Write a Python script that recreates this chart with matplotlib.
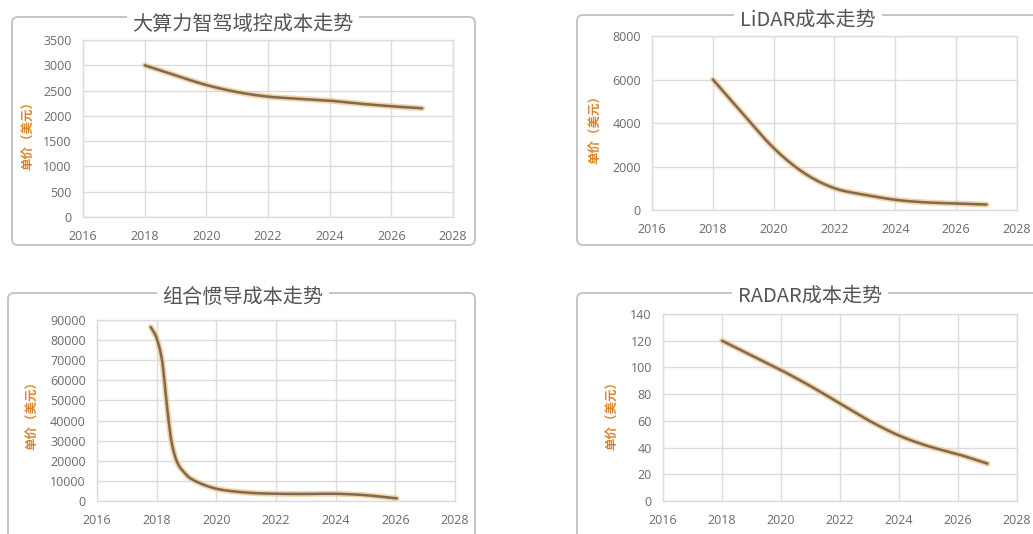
import numpy as np
import matplotlib
matplotlib.use("Agg")
import matplotlib.pyplot as plt
from matplotlib.patches import FancyBboxPatch

plt.rcParams['font.family'] = ['Open Sans', 'Noto Sans CJK SC', 'DejaVu Sans']

# ---- data ----
titles = ["大算力智驾域控成本走势", "LiDAR成本走势", "组合惯导成本走势", "RADAR成本走势"]
y_label = "单价（美元）"
x_ticks = [2016, 2018, 2020, 2022, 2024, 2026, 2028]

domain_years = [2018, 2019, 2020, 2021, 2022, 2023, 2024, 2025, 2026, 2027]
domain_cost = [3000, 2800, 2610, 2470, 2380, 2340, 2300, 2240, 2190, 2150]

lidar_years = [2018, 2019, 2020, 2021, 2022, 2023, 2024, 2025, 2026, 2027]
lidar_cost = [6000, 4400, 2850, 1700, 1000, 700, 470, 350, 300, 250]

ins_years = [2017.8, 2018.0, 2018.18, 2018.29, 2018.4, 2018.51, 2018.68, 2018.91,
             2019.24, 2020, 2021, 2022, 2023, 2024, 2025, 2026.05]
ins_cost = [86500, 81000, 70000, 55000, 40000, 28500, 19500, 14400,
            10300, 6100, 4200, 3600, 3500, 3600, 2900, 1300]

radar_years = [2018, 2019, 2020, 2021, 2022, 2023, 2024, 2025, 2026, 2027]
radar_cost = [120, 109, 98, 86, 73, 60, 49, 41, 35, 28]

y_ticks = [np.arange(0, 3501, 500), np.arange(0, 8001, 2000),
           np.arange(0, 90001, 10000), np.arange(0, 141, 20)]

W, H = 1033, 534
fig = plt.figure(figsize=(W / 100, H / 100), dpi=100)
fig.patch.set_facecolor("white")

# pixel-space overlay for frames and titles
bg = fig.add_axes([0, 0, 1, 1], zorder=0)
bg.set_xlim(0, W)
bg.set_ylim(H, 0)
bg.axis("off")


def px_rect(l, t, r, b):
    return [l / W, 1 - b / H, (r - l) / W, (b - t) / H]


def smooth(xs, ys, n=24):
    """Catmull-Rom curve through the given points."""
    p = np.column_stack([xs, ys]).astype(float)
    p = np.vstack([2 * p[0] - p[1], p, 2 * p[-1] - p[-2]])
    out = []
    t = np.linspace(0, 1, n, endpoint=False)[:, None]
    for i in range(1, len(p) - 2):
        p0, p1, p2, p3 = p[i - 1], p[i], p[i + 1], p[i + 2]
        seg = 0.5 * ((2 * p1) + (-p0 + p2) * t + (2 * p0 - 5 * p1 + 4 * p2 - p3) * t ** 2
                     + (-p0 + 3 * p1 - 3 * p2 + p3) * t ** 3)
        out.append(seg)
    out.append(p[-2][None, :])
    c = np.vstack(out)
    return c[:, 0], c[:, 1]


panels = [
    dict(frame=(12, 17, 475, 245), title_xy=(243, 24), axes=(83, 40, 453, 217),
         ylab=(29, 133), x=domain_years, y=domain_cost),
    dict(frame=(577, 15, 1045, 245), title_xy=(808, 20), axes=(652, 36, 1017, 210),
         ylab=(596, 127), x=lidar_years, y=lidar_cost),
    dict(frame=(8, 293, 475, 545), title_xy=(243, 297), axes=(97, 320, 455, 501),
         ylab=(33, 413), x=ins_years, y=ins_cost),
    dict(frame=(577, 293, 1045, 545), title_xy=(810, 297), axes=(663, 314, 1017, 501),
         ylab=(613, 413), x=radar_years, y=radar_cost),
]

grid_c = "#dcdcdc"
for i, pnl in enumerate(panels):
    l, t, r, b = pnl["frame"]
    bg.add_patch(FancyBboxPatch((l, t), r - l, b - t,
                                boxstyle="round,pad=0,rounding_size=6",
                                fc="none", ec="#c4c4c4", lw=1.4))
    bg.text(*pnl["title_xy"], titles[i], ha="center", va="center", fontsize=14.5,
            color="#555555", family=['Noto Sans CJK SC', 'DejaVu Sans'],
            bbox=dict(fc="white", ec="none", pad=4))
    bg.text(*pnl["ylab"], y_label, rotation=90, ha="center", va="center", fontsize=9,
            color="#d9842e", fontweight="bold", family=['Noto Sans CJK SC', 'DejaVu Sans'])

    ax = fig.add_axes(px_rect(*pnl["axes"]), zorder=1)
    ax.patch.set_alpha(0)
    ax.set_xlim(2016, 2028)
    yt = y_ticks[i]
    ax.set_ylim(yt[0], yt[-1])
    ax.set_xticks(x_ticks)
    ax.set_yticks(yt)
    ax.grid(True, color=grid_c, lw=1.0)
    ax.set_axisbelow(True)
    for s in ax.spines.values():
        s.set_color(grid_c)
        s.set_linewidth(1.0)
    ax.tick_params(length=0, labelsize=9, labelcolor="#6a6a6a")
    ax.tick_params(axis="y", pad=8)
    ax.tick_params(axis="x", pad=9)

    sx, sy = smooth(pnl["x"], pnl["y"])
    ax.plot(sx, sy, color="#f4c88e", lw=4.2, alpha=0.8, solid_capstyle="round", clip_on=False)
    ax.plot(sx, sy, color="#7b6a54", lw=1.8, solid_capstyle="round", clip_on=False)

fig.savefig("out.png", dpi=100, facecolor="white")
